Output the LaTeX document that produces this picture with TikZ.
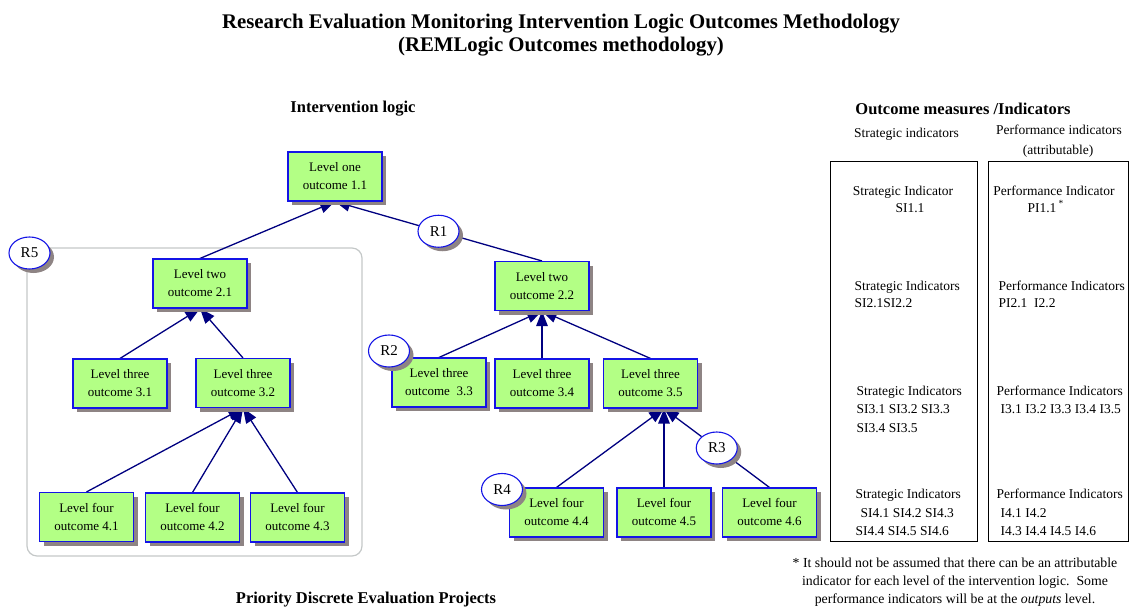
\documentclass[tikz,border=0pt]{standalone}
\usepackage{fontspec}
\setmainfont{Liberation Serif}
\usetikzlibrary{arrows.meta,shadows,calc,shapes.geometric}

\definecolor{boxgreen}{HTML}{B3FF85}
\definecolor{boxblue}{HTML}{1414E6}
\definecolor{navy}{HTML}{000080}
\definecolor{shade}{HTML}{8E8484}
\definecolor{framegray}{HTML}{C4C8C8}

\pgfdeclarelayer{background}
\pgfsetlayers{background,main}

\begin{document}
\begin{tikzpicture}[x=1pt,y=-1pt,
  shadowed/.style={drop shadow={shadow xshift=4pt,shadow yshift=-4pt,fill=shade,opacity=1}},
  outcome/.style={shadowed,draw=boxblue,fill=boxgreen,line width=1.1pt,
    minimum width=94pt,minimum height=49pt,inner sep=0pt,align=center,
    font=\fontsize{13}{18}\selectfont},
  risk/.style={shadowed,ellipse,draw=boxblue,fill=white,line width=1.1pt,
    minimum width=41pt,minimum height=32pt,inner sep=0pt,
    font=\fontsize{15}{17}\selectfont},
  link/.style={draw=navy,line width=1.3pt,-{Triangle[length=15pt,width=11.5pt]}},
  plainlink/.style={draw=navy,line width=1.3pt},
  column/.style={draw=black,line width=0.9pt,inner sep=0pt,minimum height=380pt},
  heading/.style={font=\fontsize{16.5}{20}\selectfont\bfseries,anchor=base},
  titletext/.style={font=\fontsize{20.8}{24}\selectfont\bfseries,anchor=base},
  side/.style={font=\fontsize{13.5}{16}\selectfont,anchor=base},
  sidel/.style={font=\fontsize{13.5}{16}\selectfont,anchor=base west},
  note/.style={font=\fontsize{13.8}{16}\selectfont,anchor=base}
]
\useasboundingbox (0,0) rectangle (1130,607);

% titles
\node[titletext] (t1) at (561,29) {Research Evaluation Monitoring Intervention Logic Outcomes Methodology};
\node[titletext] (t2) at (561,52) {(REMLogic Outcomes methodology)};
\node[heading] (il) at (353,113) {Intervention logic};
\node[heading] (pd) at (366,603) {Priority Discrete Evaluation Projects};
\node[heading] (om) at (963,115) {Outcome measures /Indicators};

% outcome hierarchy
\node[outcome] (L11) at (335,176.5) {Level one\\outcome 1.1};
\node[outcome] (L21) at (200,283.5) {Level two\\outcome 2.1};
\node[outcome] (L22) at (542,286) {Level two\\outcome 2.2};
\node[outcome] (L31) at (120,383.5) {Level three\\outcome 3.1};
\node[outcome] (L32) at (243,383) {Level three\\outcome 3.2};
\node[outcome] (L33) at (439,382.5) {Level three\\outcome\ \ 3.3};
\node[outcome] (L34) at (542,383.5) {Level three\\outcome 3.4};
\node[outcome] (L35) at (650.5,383.5) {Level three\\outcome 3.5};
\node[outcome] (L41) at (86.5,517) {Level four\\outcome 4.1};
\node[outcome] (L42) at (192.5,517.5) {Level four\\outcome 4.2};
\node[outcome] (L43) at (297.5,517.5) {Level four\\outcome 4.3};
\node[outcome] (L44) at (556.5,512.5) {Level four\\outcome 4.4};
\node[outcome] (L45) at (664,512.5) {Level four\\outcome 4.5};
\node[outcome] (L46) at (769.5,512.5) {Level four\\outcome 4.6};

% the level-four links meet outcome 3.5 right of its centre
\coordinate (L35in) at ($(L35.south)+(13.5,0)$);

% risk markers
\node[risk] (R1) at ($(L22.north)!0.5!(L11.south)$) {R1};
\node[risk] (R2) at (389,351) {R2};
\node[risk] (R3) at ($(L46.north)!0.5!(L35in)$) {R3};
\node[risk] (R4) at (502,489.5) {R4};
\node[risk] (R5) at (29.5,253) {R5};

\begin{pgfonlayer}{background}
  % priority project frame
  \draw[framegray,line width=1.2pt,rounded corners=10pt] (27,248) rectangle (362,556);
  % links up the hierarchy
  \draw[link] (L21.north) -- (L11.south);
  \draw[plainlink] (L22.north) -- (R1);
  \draw[link] (R1) -- (L11.south);
  \draw[link] (L31.north) -- (L21.south);
  \draw[link] (L32.north) -- (L21.south);
  \draw[link] (L33.north) -- (L22.south);
  \draw[link] (L34.north) -- (L22.south);
  \draw[link] (L35.north) -- (L22.south);
  \draw[link] (L41.north) -- (L32.south);
  \draw[link] (L42.north) -- (L32.south);
  \draw[link] (L43.north) -- (L32.south);
  \draw[link] (L44.north) -- (L35in);
  \draw[link] (L45.north) -- (L35in);
  \draw[plainlink] (L46.north) -- (R3);
  \draw[link] (R3) -- (L35in);
\end{pgfonlayer}

% indicator columns
\node[side] (sh) at (906.5,138) {Strategic indicators};
\node[side] (ph) at (1059,135) {Performance indicators};
\node[side] (pa) at (1058,155) {(attributable)};
\node[column,minimum width=147pt] (scol) at (903.5,351) {};
\node[column,minimum width=140pt] (pcol) at (1058,351) {};

\node[side] (s1a) at (903,195) {Strategic Indicator};
\node[side] (s1b) at (910,212) {SI1.1};
\node[side] (p1a) at (1054,195) {Performance Indicator};
\node[sidel] (p1b) at (1024,212) {PI1.1\,\textsuperscript{*}};

\node[sidel] (s2a) at (851,290) {Strategic Indicators};
\node[sidel] (s2b) at (851,307) {SI2.1SI2.2};
\node[sidel] (p2a) at (995,290) {Performance Indicators};
\node[sidel] (p2b) at (995,307) {PI2.1\ \ I2.2};

\node[sidel] (s3a) at (853,395) {Strategic Indicators};
\node[sidel] (s3b) at (853,413) {SI3.1 SI3.2 SI3.3};
\node[sidel] (s3c) at (853,432) {SI3.4 SI3.5};
\node[sidel] (p3a) at (993,395) {Performance Indicators};
\node[sidel] (p3b) at (997,413) {I3.1 I3.2 I3.3 I3.4 I3.5};

\node[sidel] (s4a) at (852,498) {Strategic Indicators};
\node[sidel] (s4b) at (857,517) {SI4.1 SI4.2 SI4.3};
\node[sidel] (s4c) at (852,535) {SI4.4 SI4.5 SI4.6};
\node[sidel] (p4a) at (993,498) {Performance Indicators};
\node[sidel] (p4b) at (997,517) {I4.1 I4.2};
\node[sidel] (p4c) at (997,535) {I4.3 I4.4 I4.5 I4.6};

% footnote
\node[note] (n1) at (955,567) {* It should not be assumed that there can be an attributable};
\node[note] (n2) at (955,585) {indicator for each level of the intervention logic.\ \ Some};
\node[note] (n3) at (955,603) {performance indicators will be at the \textit{outputs} level.};
\end{tikzpicture}
\end{document}
